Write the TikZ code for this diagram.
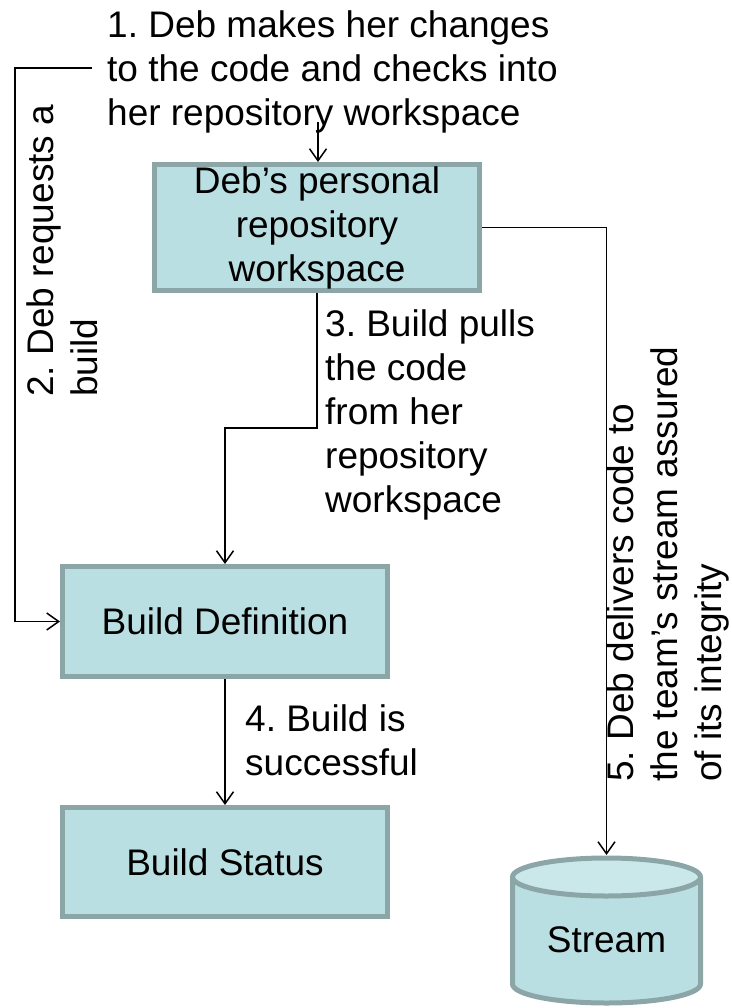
\documentclass[tikz,border=0pt]{standalone}
\usepackage{fontspec}
\setmainfont{Liberation Sans}
\usetikzlibrary{arrows.meta}
\definecolor{boxfill}{RGB}{186,223,226}
\definecolor{boxedge}{RGB}{140,166,168}
\definecolor{capfill}{RGB}{202,232,234}
\frenchspacing
\begin{document}
\begin{tikzpicture}[x=1pt,y=1pt,
  every node/.style={font=\fontsize{37}{44}\selectfont},
  procbox/.style={draw=boxedge,fill=boxfill,line width=5pt,inner sep=0pt,
    minimum width=325pt,align=center},
  note/.style={align=left,inner sep=0pt},
  arr/.style={line width=1.5pt,-{Straight Barb[length=12pt,width=17pt,line width=1.5pt]}},
  edge5/.style={draw=boxedge,line width=5pt,line join=round}]
\useasboundingbox (0,0) rectangle (731,-1008);

% process boxes
\node[procbox,minimum height=126pt] (deb) at (317,-227.5)
  {Deb’s personal\\repository\\workspace};
\node[procbox,minimum height=110pt] (def) at (225,-621.5) {Build Definition};
\node[procbox,minimum height=109pt] (stat) at (225,-862) {Build Status};

% the team's stream, drawn as a cylinder
\filldraw[edge5,fill=boxfill] (512.5,-877) -- (512.5,-984)
  arc[start angle=180,end angle=360,x radius=94,y radius=19] -- (700.5,-877);
\filldraw[edge5,fill=capfill] (606.5,-877) ellipse[x radius=94,y radius=19];
\coordinate (streamtop) at (606.5,-855);
\node (stream) at (606.5,-940) {Stream};

% step labels
\node[note,anchor=west] (t1) at (107,-72)
  {1. Deb makes her changes\\to the code and checks into\\her repository workspace};
\node[note,anchor=west,rotate=90] (t2) at (62,-397) {2. Deb requests a\\build};
\node[note,anchor=west] (t3) at (325,-415)
  {3. Build pulls\\the code\\from her\\repository\\workspace};
\node[note,anchor=west] (t4) at (245,-740) {4. Build is\\successful};
\node[note,anchor=west,rotate=90] (t5) at (668,-782)
  {5. Deb delivers code to\\the team’s stream assured\\of its integrity};

% connectors
\coordinate (a1) at (318,-122);
\draw[arr] (a1) -- (a1 |- deb.north);

\coordinate (l0) at (92,-68);
\coordinate (l1) at (15,-68);
\draw[arr] (l0) -- (l1) |- (def.west);

\coordinate (k3) at (225,-428);
\draw[arr] (deb.south) |- (k3) -- (def.north);

\draw[arr] (def.south) -- (stat.north);

\draw[arr] (deb.east) -| (streamtop);
\end{tikzpicture}
\end{document}
